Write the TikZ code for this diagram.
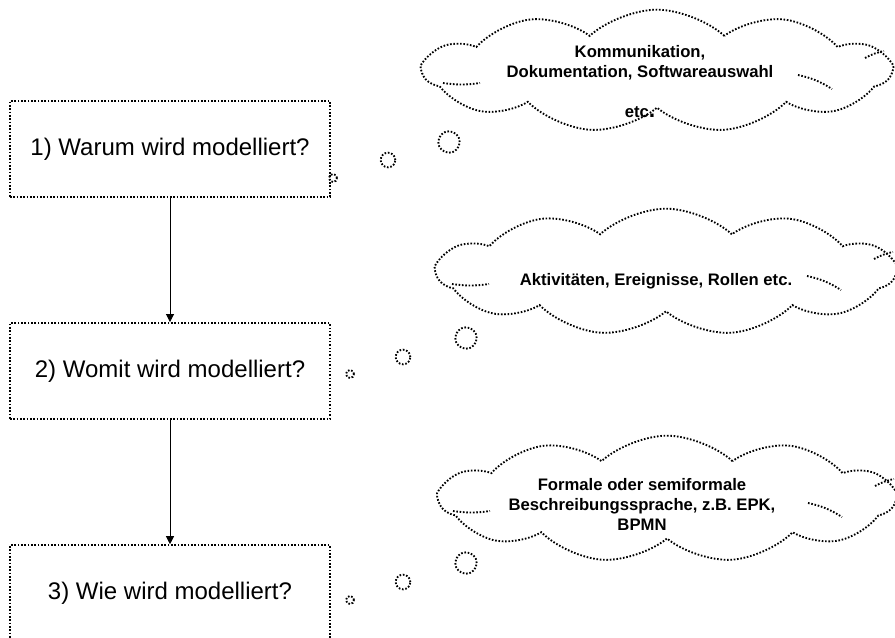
\documentclass[tikz,border=0pt]{standalone}
\usepackage{fontspec}
\setmainfont{Liberation Sans}
\usetikzlibrary{positioning, shapes.symbols, arrows.meta}

\begin{document}
\begin{tikzpicture}[
    x=0.75pt, y=-0.75pt,
    dots/.style={line width=1.6pt, dash pattern=on 1.2pt off 1.3pt},
    question/.style={rectangle, draw, dots, minimum width=240pt, minimum height=72pt, font=\fontsize{18}{22}\selectfont},
    thought/.style={cloud, draw, dots, line width=1.4pt, cloud puffs=11, cloud puff arc=85, aspect=3.8, inner sep=0pt},
    thoughttext/.style={align=center, font=\fontsize{12.5}{15}\selectfont\bfseries},
    bubble/.style={circle, draw, dots, line width=1.4pt, inner sep=0pt},
    flow/.style={-{Triangle[width=6pt,length=6pt]}, line width=0.6pt}
]
\useasboundingbox (0,0) rectangle (895,637);

% Fragen links
\node[question] (why) at (170,149) {1) Warum wird modelliert?};
\node[question, below=93pt of why] (what) {2) Womit wird modelliert?};
\node[question, below=93pt of what] (how) {3) Wie wird modelliert?};

\draw[flow] (why) -- (what);
\draw[flow] (what) -- (how);

% Wolken rechts
\node[thought, minimum width=350pt, minimum height=92pt] (cloud1) at (657,71) {};
\node[thoughttext] (why_text) at (640,82) {Kommunikation,\\Dokumentation, Softwareauswahl\\[15pt]etc{\LARGE .}};

\node[thought, minimum width=343pt, minimum height=95pt] (cloud2) at (666,272) {};
\node[thoughttext] (what_text) at (656,281) {Aktivitäten, Ereignisse, Rollen etc.};

\node[thought, minimum width=341pt, minimum height=95pt] (cloud3) at (667,499) {};
\node[thoughttext] (how_text) at (642,504) {Formale oder semiformale\\Beschreibungssprache, z.B. EPK,\\BPMN};

% innere Linien der Wolken
\foreach \c in {cloud1, cloud2, cloud3} {
    \draw[dots, line width=1.4pt] ([shift={(-214,12)}]\c.center) to[bend right=8] ([shift={(-177,12)}]\c.center);
    \draw[dots, line width=1.4pt] ([shift={(141,4)}]\c.center) to[bend left=10] ([shift={(175,18)}]\c.center);
    \draw[dots, line width=1.4pt] ([shift={(208,-13)}]\c.center) to[bend left=8] ([shift={(227,-20)}]\c.center);
}

% Gedankenblasen
\node[bubble, minimum size=16pt] (b1_big) at (449,142) {};
\node[bubble, minimum size=11pt] (b1_mid) at (388,160) {};
\node[bubble, minimum size=6pt] (b1_small) at (333,178) {};

\node[bubble, minimum size=16pt] (b2_big) at (466,338) {};
\node[bubble, minimum size=11pt] (b2_mid) at (403,357) {};
\node[bubble, minimum size=6pt] (b2_small) at (350,374) {};

\node[bubble, minimum size=16pt] (b3_big) at (466,563) {};
\node[bubble, minimum size=11pt] (b3_mid) at (403,582) {};
\node[bubble, minimum size=6pt] (b3_small) at (350,600) {};

\end{tikzpicture}
\end{document}
